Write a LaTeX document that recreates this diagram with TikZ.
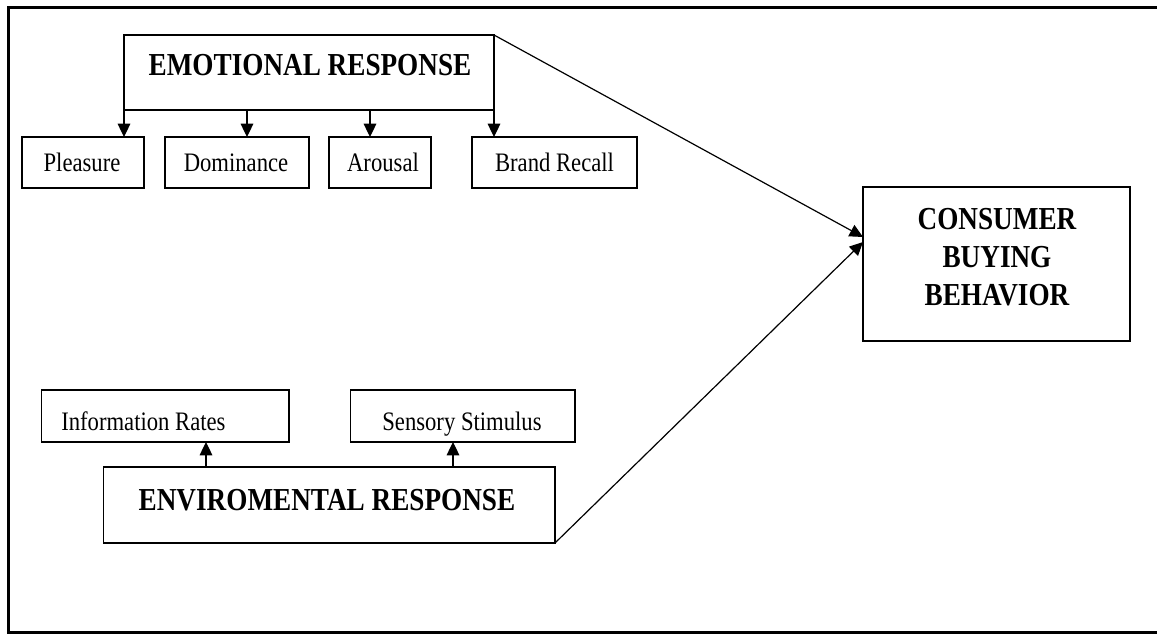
\documentclass[tikz,border=0pt]{standalone}
\usepackage{fontspec}
\setmainfont{Liberation Serif}[FakeStretch=0.85]
\usetikzlibrary{arrows.meta}
\begin{document}
\begin{tikzpicture}[x=0.75pt,y=-0.75pt,
  bx/.style 2 args={draw=black, line width=0.9pt, minimum width={#1*0.75pt}, minimum height={#2*0.75pt}, inner sep=0pt, outer sep=0pt},
  txt/.style={inner sep=0pt, anchor=base, font=\fontsize{20}{24}\selectfont},
  ttl/.style={inner sep=0pt, anchor=base, font=\fontsize{24}{28.5}\selectfont\bfseries},
  arr/.style={-{Triangle[length=10pt,width=9.5pt]}, line width=0.9pt},
  frame/.style={line width=2.25pt, draw=black}]
\useasboundingbox (0,0) rectangle (1157,634);
\fill[white] (0,0) rectangle (1157,634);
\draw[frame] (1165,7.5) -- (8,7.5) -- (8,632.5) -- (1165,632.5);

% boxes
\node[bx={370}{75}] (emo) at (309,72.5) {};
\node[bx={122}{51}] (ple) at (83,162.5) {};
\node[bx={144}{51}] (dom) at (237,162.5) {};
\node[bx={102}{51}] (aro) at (380,162.5) {};
\node[bx={165}{51}] (bra) at (554.5,162.5) {};
\node[bx={247.5}{52}] (inf) at (165.25,416) {};
\node[bx={224.5}{52}] (sen) at (462.75,416) {};
\node[bx={451.5}{76}] (env) at (329.25,505) {};
\node[bx={267}{154}] (con) at (996.5,264) {};

% texts
\node[ttl] (emot) at (310,76) {EMOTIONAL RESPONSE};
\node[txt] (plet) at (82,172) {Pleasure};
\node[txt] (domt) at (236,172) {Dominance};
\node[txt] (arot) at (383,172) {Arousal};
\node[txt] (brat) at (554.5,172) {Brand Recall};
\node[txt, anchor=base west] (inft) at (61,431) {Information Rates};
\node[txt] (sent) at (462,431) {Sensory Stimulus};
\node[ttl] (envt) at (327,510) {ENVIROMENTAL RESPONSE};
\node[inner sep=0pt, align=center, font=\fontsize{24}{28.5}\selectfont\bfseries] (cont) at (997,257) {CONSUMER\\BUYING\\BEHAVIOR};

% connectors
\draw[arr] (emo.south west) -- (emo.south west |- ple.north);
\draw[arr] (emo.south -| 247,0) -- (dom.north -| 247,0);
\draw[arr] (emo.south -| 370,0) -- (aro.north -| 370,0);
\draw[arr] (emo.south east) -- (emo.south east |- bra.north);
\draw[arr] (env.north -| 206,0) -- (inf.south -| 206,0);
\draw[arr] (env.north -| 453,0) -- (sen.south -| 453,0);
\draw[arr] (emo.north east) -- (con.west |- 0,237);
\draw[arr] (env.south east) -- (con.west |- 0,242);
\end{tikzpicture}
\end{document}
